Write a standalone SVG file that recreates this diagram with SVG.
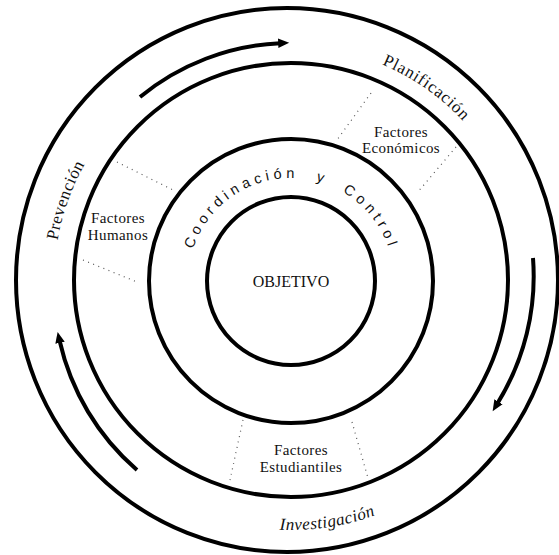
<svg xmlns="http://www.w3.org/2000/svg" width="559" height="555" viewBox="0 0 559 555">
  <style>
    .ring { fill: none; stroke: #000; stroke-width: 4; }
    .dot { stroke: #555; stroke-width: 1.2; stroke-dasharray: 1 4.5; fill: none; }
    .serif { font-family: "Liberation Serif", "Times New Roman", serif; fill: #111; }
    .sans { font-family: "Liberation Sans", Arial, sans-serif; fill: #111; }
    .lbl { font-size: 15px; text-anchor: middle; letter-spacing: 0.4px; }
    .arrow { fill: none; stroke: #000; stroke-width: 4; marker-end: url(#head); }
  </style>
  <defs>
    <marker id="head" markerUnits="userSpaceOnUse" markerWidth="14" markerHeight="14" refX="2" refY="6" orient="auto" viewBox="0 0 14 12">
      <path d="M0,1.2 L11,6 L0,10.8 Z" fill="#000"/>
    </marker>
    <path id="planPath" d="M 291 46 A 235 235 0 0 1 526 281"/>
    <path id="prevPath" d="M 54 281 A 237 237 0 0 1 291 44"/>
    <path id="invPath" d="M 42 281 A 249 249 0 0 0 540 281"/>
    <path id="coordPath" d="M 188 281 A 103 103 0 0 1 394 281"/>
  </defs>
  <rect width="559" height="555" fill="#fff"/>

  <g id="outer-ring">
    <ellipse class="ring" cx="287" cy="280" rx="271" ry="272"/>
  </g>
  <g id="factores-ring">
    <circle class="ring" cx="291" cy="280" r="217"/>
  </g>
  <g id="coordinacion">
    <circle class="ring" cx="291" cy="281" r="142"/>
    <text class="sans" font-size="14.5" letter-spacing="4.3" word-spacing="9"><textPath href="#coordPath" startOffset="32">Coordinación y Control</textPath></text>
  </g>
  <g id="objetivo">
    <circle class="ring" cx="291" cy="281" r="84" stroke-width="4.5"/>
    <text class="serif" x="291" y="287" font-size="16" text-anchor="middle">OBJETIVO</text>
  </g>

  <g id="planificacion">
    <text class="serif" font-size="17" letter-spacing="0.8" text-anchor="middle"><textPath href="#planPath" startOffset="143.5">Planificación</textPath></text>
  </g>
  <g id="prevencion">
    <text class="serif" font-size="17" letter-spacing="0.5" text-anchor="middle"><textPath href="#prevPath" startOffset="81.5">Prevención</textPath></text>
  </g>
  <g id="investigacion">
    <text class="serif" font-size="17" font-style="italic" letter-spacing="0.5" text-anchor="middle"><textPath href="#invPath" startOffset="428.5">Investigación</textPath></text>
  </g>

  <g id="factores-humanos">
    <line class="dot" x1="117" y1="162" x2="173" y2="190"/>
    <line class="dot" x1="83" y1="260" x2="137" y2="282"/>
    <text class="serif lbl" x="118" y="223">Factores</text>
    <text class="serif lbl" x="118" y="240">Humanos</text>
  </g>
  <g id="factores-economicos">
    <line class="dot" x1="371" y1="93" x2="337" y2="140"/>
    <line class="dot" x1="456" y1="147" x2="417" y2="193"/>
    <text class="serif lbl" x="401" y="137">Factores</text>
    <text class="serif lbl" x="401" y="153">Económicos</text>
  </g>
  <g id="factores-estudiantiles">
    <line class="dot" x1="243" y1="420" x2="230" y2="480"/>
    <line class="dot" x1="352" y1="422" x2="368" y2="478"/>
    <text class="serif lbl" x="301" y="455">Factores</text>
    <text class="serif lbl" x="301" y="472">Estudiantiles</text>
  </g>

  <g id="connectors">
    <path class="arrow" d="M 140 97 A 238 238 0 0 1 280.2 43.2"/>
    <path class="arrow" d="M 533 258 A 241 241 0 0 1 497.4 403.5"/>
    <path class="arrow" d="M 137 470 A 241 241 0 0 1 59.6 340.8"/>
  </g>
</svg>
